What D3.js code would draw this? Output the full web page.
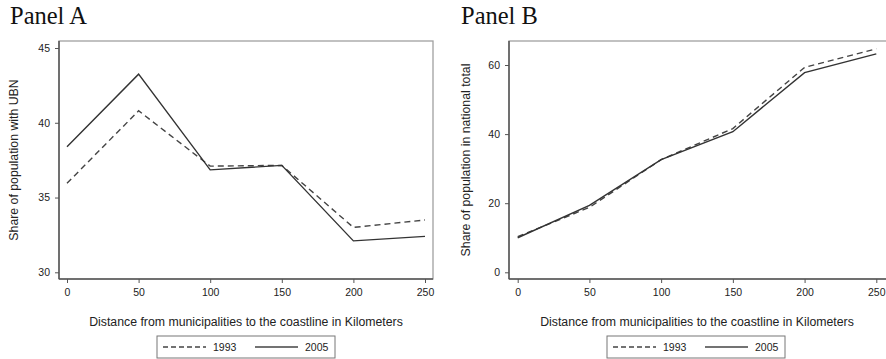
<!DOCTYPE html>
<html>
<head>
<script src="https://d3js.org/d3.v7.min.js"></script>
<style>
body { margin: 0; background: white; }
text { font-family: "Liberation Sans", Arial, sans-serif; fill: #222; }
.panel-title { font-family: "Liberation Serif", "Times New Roman", serif; font-size: 24.5px; fill: #111; }
</style>
</head>
<body>
<script>
// data
var distance = [0, 50, 100, 150, 200, 250];
var ubn1993 = [35.95, 40.8, 37.1, 37.15, 33.0, 33.5];
var ubn2005 = [38.4, 43.25, 36.85, 37.15, 32.1, 32.4];
var pop1993 = [10.3, 18.8, 32.6, 41.6, 59.3, 64.7];
var pop2005 = [10.0, 19.4, 32.6, 40.7, 57.8, 63.2];
var xTicks = [0, 50, 100, 150, 200, 250];
var yTicksA = [30, 35, 40, 45];
var yTicksB = [0, 20, 40, 60];
var years = ["1993", "2005"];

var width = 886, height = 359;
var svg = d3.select("body").append("svg")
  .attr("width", width).attr("height", height);

function panel(opt) {
  var g = svg.append("g");
  var x = d3.scaleLinear().domain([0, 250]).range([opt.x0, opt.x250]);
  var y = d3.scaleLinear().domain(opt.ydom).range(opt.yrange);

  g.append("text").attr("class", "panel-title")
    .attr("x", opt.titleX).attr("y", 23.5).text(opt.title);

  // frame: light top/right, darker left/bottom
  g.append("rect")
    .attr("x", opt.left).attr("y", opt.top)
    .attr("width", opt.right - opt.left).attr("height", opt.bottom - opt.top)
    .attr("fill", "none").attr("stroke", "#a0a0a0").attr("stroke-width", 1.3);

  var yAxis = g.append("g").attr("transform", "translate(" + opt.left + ",0)")
    .call(d3.axisLeft(y).tickValues(opt.yticks).tickSize(4).tickPadding(5));
  var xAxis = g.append("g").attr("transform", "translate(0," + opt.bottom + ")")
    .call(d3.axisBottom(x).tickValues(xTicks).tickSize(4).tickPadding(6));
  [yAxis, xAxis].forEach(function(a) {
    a.select(".domain").remove();
    a.selectAll("line").attr("stroke", "#555");
    a.selectAll("text").style("font-size", "10.5px").attr("fill", "#222");
  });
  g.append("line").attr("x1", opt.left).attr("x2", opt.left)
    .attr("y1", opt.top).attr("y2", opt.bottom)
    .attr("stroke", "#555").attr("stroke-width", 1.5);
  g.append("line").attr("x1", opt.left).attr("x2", opt.right)
    .attr("y1", opt.bottom).attr("y2", opt.bottom)
    .attr("stroke", "#555").attr("stroke-width", 1.5);

  var line = d3.line().x(function(d, i) { return x(distance[i]); }).y(function(d) { return y(d); });
  g.append("path").datum(opt.s1993).attr("d", line)
    .attr("fill", "none").attr("stroke", "#444").attr("stroke-width", 1.4)
    .attr("stroke-dasharray", "6,4");
  g.append("path").datum(opt.s2005).attr("d", line)
    .attr("fill", "none").attr("stroke", "#333").attr("stroke-width", 1.4);

  // y title
  g.append("text")
    .attr("transform", "translate(" + opt.ytitleX + "," + ((opt.top + opt.bottom) / 2) + ") rotate(-90)")
    .attr("text-anchor", "middle").style("font-size", "12.3px").text(opt.ytitle);

  // x title
  g.append("text").attr("x", (opt.x0 + opt.x250) / 2).attr("y", 326)
    .attr("text-anchor", "middle").style("font-size", "12.3px")
    .text("Distance from municipalities to the coastline in Kilometers");

  // legend
  var lg = g.append("g").attr("transform", "translate(" + opt.legX + ",336)");
  lg.append("rect").attr("width", 178).attr("height", 22)
    .attr("fill", "white").attr("stroke", "#777").attr("stroke-width", 1);
  years.forEach(function(yr, i) {
    var ox = 6 + i * 92;
    lg.append("line").attr("x1", ox).attr("x2", ox + 43).attr("y1", 11).attr("y2", 11)
      .attr("stroke", "#444").attr("stroke-width", 1.3)
      .attr("stroke-dasharray", i === 0 ? "5,3" : null);
    lg.append("text").attr("x", ox + 50).attr("y", 15).style("font-size", "10.5px").text(yr);
  });
}

panel({
  title: "Panel A", titleX: 10,
  left: 59, right: 433, top: 41, bottom: 279,
  x0: 67, x250: 425,
  ydom: [30, 45], yrange: [272.3, 48], yticks: yTicksA,
  s1993: ubn1993, s2005: ubn2005,
  ytitle: "Share of population with UBN", ytitleX: 17.5,
  legX: 157
});

panel({
  title: "Panel B", titleX: 461,
  left: 509, right: 892, top: 41, bottom: 279,
  x0: 517.7, x250: 876.3,
  ydom: [0, 60], yrange: [272.3, 65], yticks: yTicksB,
  s1993: pop1993, s2005: pop2005,
  ytitle: "Share of population in national total", ytitleX: 469.5,
  legX: 607
});
</script>
</body>
</html>
